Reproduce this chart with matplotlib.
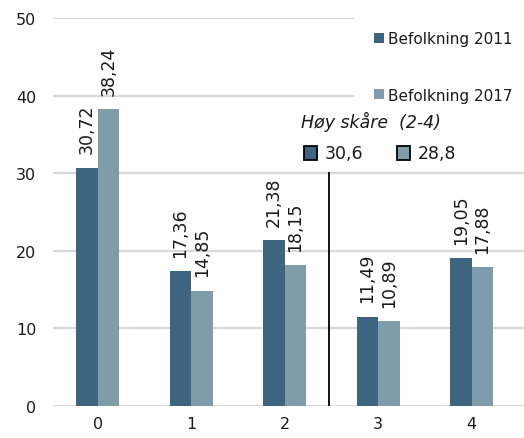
import matplotlib
matplotlib.use("Agg")
import matplotlib.pyplot as plt
from matplotlib.patches import Patch
import numpy as np

categories = ["0", "1", "2", "3", "4"]
pop2011 = [30.72, 17.36, 21.38, 11.49, 19.05]
pop2017 = [38.24, 14.85, 18.15, 10.89, 17.88]
series_names = ["Befolkning 2011", "Befolkning 2017"]
high_title = "Høy skåre  (2-4)"
high_values = ["30,6", "28,8"]
yticks = [0, 10, 20, 30, 40, 50]

plt.rcParams['font.family'] = ['DejaVu Sans']
dark = "#3e6580"
light = "#7f9cab"
grid_c = "#d9d9d9"
txt_c = "#1a1a1a"

fig = plt.figure(figsize=(5.24, 4.39), dpi=100)
ax = fig.add_axes([53/524, 1-407/439, 1-53/524, (407-19)/439])

x = np.arange(len(categories))
w = 0.23
b1 = ax.bar(x - w/2, pop2011, w, color=dark, zorder=3, label=series_names[0])
b2 = ax.bar(x + w/2, pop2017, w, color=light, zorder=3, label=series_names[1])

def fmt(v):
    return f"{v:.2f}".replace(".", ",")

for bars, vals in ((b1, pop2011), (b2, pop2017)):
    for r, v in zip(bars, vals):
        ax.annotate(fmt(v), (r.get_x() + r.get_width()/2, v), xytext=(0, 10.5),
                    textcoords="offset points", rotation=90, ha="center", va="bottom",
                    fontsize=12.5, color=txt_c)

ax.set_xlim(-0.48, 4.56)
ax.set_ylim(0, 50)
ax.set_yticks(yticks)
ax.set_xticks(x)
ax.set_xticklabels(categories)
for s in ax.spines.values():
    s.set_visible(False)
ax.tick_params(length=0, labelsize=11.5, colors=txt_c)
ax.tick_params(axis="y", pad=12)
ax.tick_params(axis="x", pad=7)
ax.yaxis.grid(True, color=grid_c, linewidth=1.6, zorder=0)
ax.set_axisbelow(True)

# divider line between 2 and 3
ax.plot([2.47, 2.47], [0, 30], color="black", linewidth=1.3, zorder=4)

handles = [Patch(facecolor=dark), Patch(facecolor=light)]
leg = fig.legend(handles, series_names, loc="upper left",
                 bbox_to_anchor=(354/524, 1-12/439), frameon=True,
                 facecolor="white", edgecolor="none", framealpha=1,
                 fontsize=11, handlelength=0.65, handleheight=0.65,
                 handletextpad=0.25, labelspacing=2.71, borderpad=1.33,
                 borderaxespad=0)
leg.get_frame().set_boxstyle("square", pad=0)
for t in leg.get_texts():
    t.set_color(txt_c)

# Høy skåre annotation
ax_sq = fig.add_axes([0, 0, 1, 1], facecolor="none")
ax_sq.set_zorder(10)
ax_sq.set_xlim(0, 524)
ax_sq.set_ylim(439, 0)
ax_sq.axis("off")
ax_sq.text(301, 122, high_title, fontsize=12.5, style="italic",
           ha="left", va="center", color=txt_c)
ax_sq.add_patch(plt.Rectangle((304, 147), 13, 14, facecolor=dark, edgecolor="black", linewidth=1.3))
ax_sq.add_patch(plt.Rectangle((397, 147), 13, 14, facecolor=light, edgecolor="black", linewidth=1.3))
ax_sq.text(325, 154, high_values[0], fontsize=12.5, ha="left", va="center", color=txt_c)
ax_sq.text(418, 154, high_values[1], fontsize=12.5, ha="left", va="center", color=txt_c)

fig.savefig("out.png", dpi=100)
